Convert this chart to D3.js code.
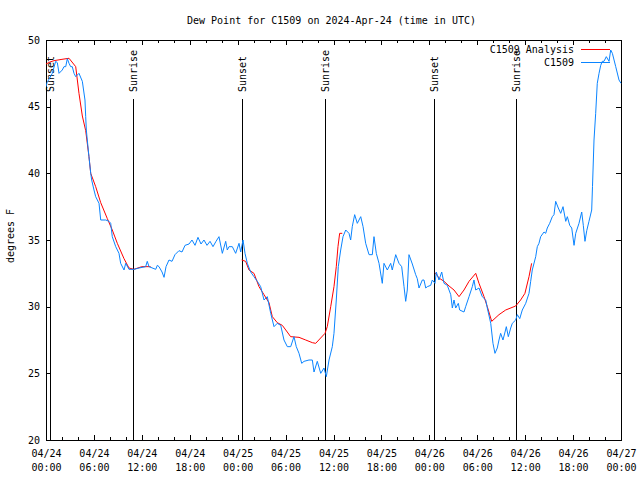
<!DOCTYPE html>
<html><head><meta charset="utf-8">
<script src="https://cdn.jsdelivr.net/npm/d3@7"></script>
<style>body{margin:0;background:#fff}svg{display:block}</style>
</head><body>
<svg id="c" width="640" height="480"></svg>
<script>
// ---------- DATA ----------
const startDate = Date.UTC(2024, 3, 24, 0, 0);
const chartTitle = "Dew Point for C1509 on 2024-Apr-24 (time in UTC)";
const yLabel = "degrees F";
const yTicks = [20, 25, 30, 35, 40, 45, 50];
const xTickHours = [0, 6, 12, 18, 24, 30, 36, 42, 48, 54, 60, 66, 72];
const xTickDates = ["04/24","04/24","04/24","04/24","04/25","04/25","04/25","04/25","04/26","04/26","04/26","04/26","04/27"];
const xTickTimes = ["00:00","06:00","12:00","18:00","00:00","06:00","12:00","18:00","00:00","06:00","12:00","18:00","00:00"];
const sunHours = [0.50, 10.89, 24.54, 34.94, 48.58, 58.85];
const sunLabels = ["Sunset", "Sunrise", "Sunset", "Sunrise", "Sunset", "Sunrise"];
const seriesNames = ["C1509 Analysis", "C1509"];

// C1509 observations (hours since 04/24 00:00 UTC, degrees F)
const obsHours = [0,0.13,0.79,1.21,1.42,1.63,2.04,2.25,2.47,2.67,2.88,3.09,3.29,3.51,3.72,4.13,4.55,4.88,4.97,5.05,5.17,5.38,5.60,5.72,6.01,6.22,6.64,6.85,7.48,7.89,8.10,8.30,8.73,9.14,9.35,9.77,9.98,10.39,11.02,11.65,12.48,12.68,12.90,13.74,13.94,
14.15,14.53,14.78,15.03,15.40,15.78,16.15,16.65,17.03,17.41,17.91,18.28,18.66,19.03,19.41,19.78,20.16,20.54,20.91,21.29,21.66,22.08,22.50,22.70,22.92,23.33,23.75,24.17,24.38,24.67,24.92,
25.21,25.63,26.04,26.46,26.88,27.30,27.71,28.14,28.55,28.96,29.39,29.80,30.22,30.64,31.05,31.34,31.68,32.02,32.31,32.93,33.35,33.56,33.97,34.40,34.81,35.10,35.44,35.85,36.06,36.35,36.60,36.90,37.19,37.53,37.94,38.15,38.35,38.65,38.98,39.41,39.70,40.03,40.45,40.86,41.07,41.36,41.70,42.11,42.32,42.74,43.16,43.36,43.79,44.20,44.54,44.83,45.04,45.24,45.45,45.87,46.29,46.49,46.71,47.12,47.33,47.55,47.75,
48.17,48.37,48.71,48.87,49.21,49.55,49.84,50.25,50.68,50.88,51.09,51.30,51.63,51.80,52.34,52.55,52.97,53.38,53.59,53.81,54.22,54.63,55.06,55.26,55.69,55.97,56.22,56.51,56.72,56.93,57.22,57.48,57.64,57.89,58.19,58.39,58.81,59.02,59.32,59.64,60.07,60.48,60.69,60.89,61.32,61.52,61.73,61.94,62.36,62.57,62.77,63.07,63.40,63.61,63.82,64.15,64.45,64.74,65.08,65.28,65.58,65.83,66.12,66.33,66.74,67.08,67.28,67.49,67.71,67.99,68.33,68.43,68.62,68.83,69.03,69.25,69.46,69.66,69.87,70.16,70.50,70.71,70.92,71.34,71.75,72.0];
const obsValues = [46.5,46.8,47.5,48.4,48.3,47.5,47.75,48.0,48.0,48.6,48.25,48.0,48.0,47.5,47.25,47.5,46.9,45.5,44.25,43.25,42.5,41.25,40.0,39.5,38.75,38.25,37.75,36.5,36.5,36.4,36.25,35.25,34.5,34.0,33.25,32.75,33.25,32.8,32.8,32.9,33.0,33.4,33.0,32.8,33.1,
33.0,32.6,32.2,33.0,33.5,33.4,33.9,34.2,34.1,34.6,34.7,35.0,34.6,35.2,34.7,35.0,34.6,34.9,34.5,34.9,35.25,34.0,34.9,34.25,34.5,34.5,34.0,34.75,34.1,35.0,34.0,
33.25,32.6,32.25,31.9,31.5,30.5,30.75,29.5,28.5,28.75,28.6,27.5,27.0,27.0,27.75,27.0,26.5,25.75,25.9,26.0,26.0,25.1,25.9,25.0,25.4,24.75,26.0,27.0,28.0,30.5,33.0,34.25,35.25,35.75,35.5,35.0,36.0,36.9,36.25,36.75,36.0,34.75,33.9,33.9,35.25,34.0,33.25,31.75,33.25,32.75,33.25,32.75,33.9,33.25,33.0,31.5,30.4,31.25,33.9,33.2,32.4,32.1,31.4,32.0,32.0,31.4,31.5,
31.6,32.0,31.75,32.6,32.0,32.6,31.75,31.6,30.9,29.9,30.5,29.9,30.25,29.75,29.6,30.0,30.75,31.5,32.0,31.25,31.4,30.75,30.5,29.9,28.75,27.25,26.5,26.9,27.5,28.0,27.5,28.1,28.5,27.75,28.4,28.75,29.0,29.4,29.1,29.75,30.25,31.0,31.9,32.75,33.75,34.5,34.75,35.25,35.6,35.5,35.9,36.25,36.75,36.9,37.9,37.4,37.0,37.5,36.4,36.75,36.1,35.9,34.6,35.5,36.25,37.1,36.1,34.9,35.7,36.4,37.25,39.0,42.5,44.5,46.75,47.5,48.1,48.4,48.4,48.75,48.4,49.25,49.0,48.0,47.0,46.75];

// C1509 Analysis (null = gap)
const anaHours = [0,0.5,1,2,2.88,3.72,4.13,4.55,4.97,5.38,5.6,6.22,6.85,7.68,8.3,8.93,9.77,10.39,11.0,12.0,13.1,
13.2,
24.5,25.0,25.42,26.04,26.67,27.3,27.92,28.34,28.96,29.59,30.21,30.63,31.68,32.52,33.35,33.77,34.39,34.94,35.22,35.65,36.06,36.35,36.56,36.77,37.1,
37.2,
48.71,49.21,49.84,50.47,51.09,51.72,52.34,52.97,53.81,54.22,54.85,55.26,55.81,56.72,57.56,58.81,59.43,59.97,60.48,60.81];
const anaValues = [48.2,48.35,48.45,48.55,48.63,48.0,46.0,44.3,43.2,41.25,40.0,39.0,37.8,36.6,35.75,34.75,33.6,32.9,32.8,33.0,33.0,
null,
33.5,33.4,32.75,32.5,31.5,30.9,30.3,29.25,28.8,28.6,28.1,27.75,27.7,27.5,27.3,27.25,27.65,28.0,28.5,30.0,31.5,33.0,34.5,35.5,35.5,
null,
32.55,32.15,31.9,31.55,31.25,30.75,31.25,31.9,32.5,31.75,30.75,30.0,28.9,29.4,29.75,30.05,30.5,31.0,32.25,33.25];

// ---------- CHART ----------
const FONT = "'DejaVu Sans Mono', 'Liberation Mono', monospace";
const FS = "10px";
const L = 46, R = 621, T = 40, B = 440;
const svg = d3.select("#c").style("font-family", FONT);
const toDate = h => new Date(startDate + h * 3600000);

const x = d3.scaleUtc().domain([toDate(0), toDate(72)]).range([L, R]);
const y = d3.scaleLinear().domain([20, 50]).range([B, T]);

const g = svg.append("g");

// minor x ticks every 2h
const minorDates = d3.range(0, 73, 2).filter(h => h % 6 !== 0).map(toDate);
const majorDates = xTickHours.map(toDate);

function styleAxis(sel) {
  sel.select(".domain").remove();
  sel.selectAll("line").attr("stroke", "#000").attr("shape-rendering", "crispEdges");
  sel.selectAll("text").attr("font-family", FONT).attr("font-size", FS).attr("fill", "#000");
}

g.append("g").attr("transform", `translate(0,${B})`)
  .call(d3.axisBottom(x).tickValues(minorDates).tickSize(-3).tickFormat(""))
  .call(styleAxis);
g.append("g").attr("transform", `translate(0,${T})`)
  .call(d3.axisTop(x).tickValues(minorDates).tickSize(-3).tickFormat(""))
  .call(styleAxis);
g.append("g").attr("transform", `translate(0,${T})`)
  .call(d3.axisTop(x).tickValues(majorDates).tickSize(-5).tickFormat(""))
  .call(styleAxis);

const xb = g.append("g").attr("transform", `translate(0,${B})`)
  .call(d3.axisBottom(x).tickValues(majorDates).tickSize(-5).tickPadding(0)
    .tickFormat((d, i) => xTickDates[i]))
  .call(styleAxis);
xb.selectAll(".tick text").each(function(d, i) {
  const t = d3.select(this);
  t.text(null).attr("y", 0).attr("dy", null);
  t.append("tspan").attr("x", 0).attr("y", 17).text(xTickDates[i]);
  t.append("tspan").attr("x", 0).attr("y", 31).text(xTickTimes[i]);
});

g.append("g").attr("transform", `translate(${L},0)`)
  .call(d3.axisLeft(y).tickValues(yTicks).tickSize(-5).tickPadding(6).tickFormat(d3.format("d")))
  .call(styleAxis);
g.append("g").attr("transform", `translate(${R},0)`)
  .call(d3.axisRight(y).tickValues(yTicks).tickSize(-5).tickFormat(""))
  .call(styleAxis);

// border
g.append("rect").attr("x", L + 0.5).attr("y", T + 0.5).attr("width", R - L).attr("height", B - T)
  .attr("fill", "none").attr("stroke", "#000").attr("shape-rendering", "crispEdges");

// title & y label
svg.append("text").attr("x", 331.5).attr("y", 24).attr("text-anchor", "middle")
  .attr("font-size", FS).text(chartTitle);
svg.append("text").attr("transform", "translate(14,236) rotate(-90)").attr("text-anchor", "middle")
  .attr("font-size", FS).text(yLabel);

// sunrise / sunset
const sun = g.append("g").selectAll("g").data(sunHours).join("g");
sun.append("line")
  .attr("x1", d => Math.round(x(toDate(d))) + 0.5).attr("x2", d => Math.round(x(toDate(d))) + 0.5)
  .attr("y1", 99).attr("y2", B).attr("stroke", "#000");
sun.append("text")
  .attr("transform", d => `translate(${x(toDate(d)) + 4},92) rotate(-90)`)
  .attr("font-size", FS).text((d, i) => sunLabels[i]);

// series
const clip = svg.append("clipPath").attr("id", "clip").append("rect")
  .attr("x", L).attr("y", T).attr("width", R - L + 1).attr("height", B - T);

const line = d3.line().defined(d => d[1] != null).x(d => x(toDate(d[0]))).y(d => y(d[1]));
const obs = obsHours.map((h, i) => [h, obsValues[i]]);
const ana = anaHours.map((h, i) => [h, anaValues[i]]);

g.append("path").datum(ana).attr("clip-path", "url(#clip)")
  .attr("d", line).attr("fill", "none").attr("stroke", "#ff0000").attr("stroke-width", 1);
g.append("path").datum(obs).attr("clip-path", "url(#clip)")
  .attr("d", line).attr("fill", "none").attr("stroke", "#0a84ff").attr("stroke-width", 1);

// legend
const legColors = ["#ff0000", "#0a84ff"];
const leg = svg.append("g").selectAll("g").data(seriesNames).join("g")
  .attr("transform", (d, i) => `translate(0,${49.5 + i * 13})`);
leg.append("text").attr("x", 574).attr("y", 3.5).attr("text-anchor", "end")
  .attr("font-size", FS).text(d => d);
leg.append("line").attr("x1", 581).attr("x2", 610).attr("y1", 0).attr("y2", 0)
  .attr("stroke", (d, i) => legColors[i]);
</script>
</body></html>
